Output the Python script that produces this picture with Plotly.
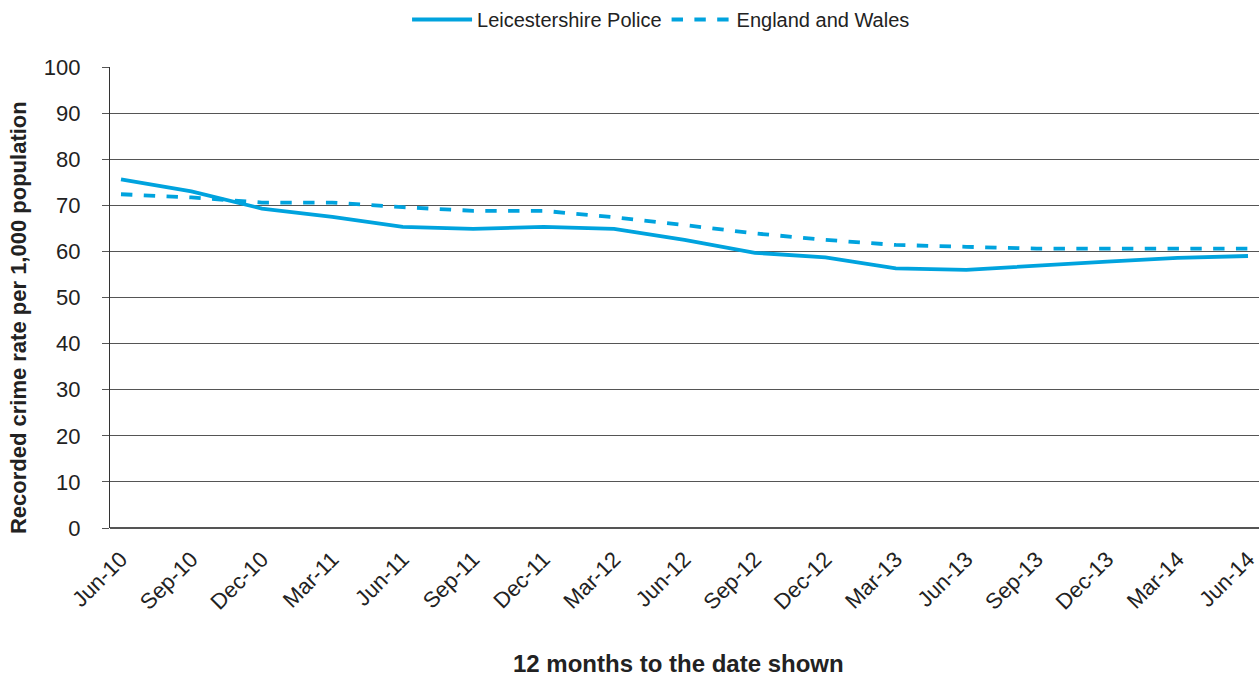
import plotly.graph_objects as go

categories = ["Jun-10", "Sep-10", "Dec-10", "Mar-11", "Jun-11", "Sep-11", "Dec-11", "Mar-12",
              "Jun-12", "Sep-12", "Dec-12", "Mar-13", "Jun-13", "Sep-13", "Dec-13", "Mar-14", "Jun-14"]
leicestershire = [75.6, 73.0, 69.3, 67.5, 65.3, 64.9, 65.3, 64.9, 62.5, 59.7, 58.7, 56.3, 56.0, 57.0, 57.8, 58.6, 59.0]
england_wales = [72.4, 71.7, 70.6, 70.6, 69.6, 68.8, 68.8, 67.4, 65.7, 63.9, 62.5, 61.4, 61.0, 60.6, 60.6, 60.6, 60.6]
y_ticks = [0, 10, 20, 30, 40, 50, 60, 70, 80, 90, 100]

color = "#00A3DE"
x_idx = list(range(len(categories)))

fig = go.Figure()
fig.add_trace(go.Scatter(x=x_idx, y=leicestershire, mode="lines", name="Leicestershire Police",
                         line=dict(color=color, width=3.8)))
fig.add_trace(go.Scatter(x=x_idx, y=england_wales, mode="lines", name="England and Wales",
                         line=dict(color=color, width=3.8, dash="dash")))

fig.update_layout(
    width=1259, height=677,
    margin=dict(l=110, r=0, t=67, b=149, autoexpand=False),
    paper_bgcolor="white", plot_bgcolor="white",
    font=dict(family="Liberation Sans, Arial, sans-serif", color="#222222"),
    legend=dict(orientation="h", x=0.4796, xanchor="center", y=1.0, yanchor="top",
                yref="container", font=dict(size=20), itemwidth=60, tracegroupgap=0),
    xaxis=dict(
        range=[-0.156, 16.156], tickmode="array", tickvals=x_idx, ticktext=categories,
        tickangle=-45, tickfont=dict(size=22), showgrid=False, zeroline=False,
        showline=False, ticks="", ticklabelstandoff=13, ticklabeloverflow="allow",
        automargin=False,
    ),
    yaxis=dict(
        range=[0, 100], tickvals=y_ticks, tickfont=dict(size=22), showgrid=True,
        gridcolor="#555555", gridwidth=1.3, zeroline=True, zerolinecolor="#555555", zerolinewidth=1.6,
        showline=True, linecolor="#333333", linewidth=1.3, ticks="outside", ticklen=7, tickcolor="#555555",
        ticklabelstandoff=17, automargin=False,
    ),
    annotations=[
        dict(text="<b>Recorded crime rate per 1,000 population</b>", textangle=-90,
             xref="paper", yref="paper", x=-0.080, y=0.4555, xanchor="center", yanchor="middle",
             showarrow=False, font=dict(size=22, color="#222222")),
        dict(text="<b>12 months to the date shown</b>",
             xref="paper", yref="paper", x=0.495, y=-0.295, xanchor="center", yanchor="middle",
             showarrow=False, font=dict(size=24, color="#222222")),
    ],
)
fig.write_html("out.html")
